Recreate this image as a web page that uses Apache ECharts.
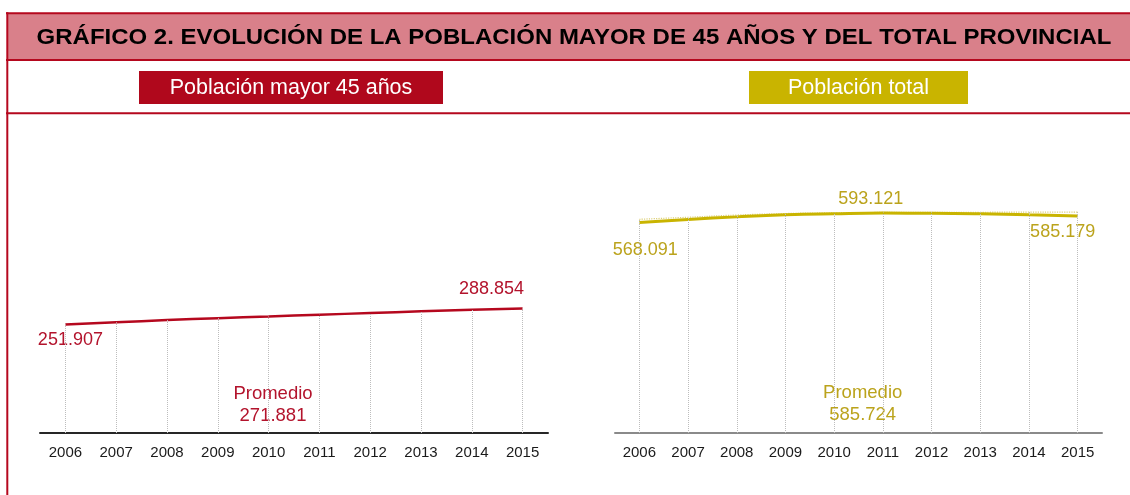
<!DOCTYPE html>
<html>
<head>
<meta charset="utf-8">
<script src="https://cdn.jsdelivr.net/npm/echarts@6/dist/echarts.min.js"></script>
<style>
html,body{margin:0;padding:0;background:#fff;}
#chart{width:1130px;height:495px;}
</style>
</head>
<body>
<div id="chart"></div>
<script>
// datos (miles de personas)
var years = ['2006','2007','2008','2009','2010','2011','2012','2013','2014','2015'];
var mayor45 = [251.907, 257, 262, 266.5, 270.5, 274.5, 278.5, 282.5, 286, 288.854];
var total = [568.091, 576, 583, 588.5, 591.5, 593.121, 592.9, 591.5, 588.5, 585.179];
var totalGuia = [576.5, 582, 588, 592, 594, 595, 595.5, 595.5, 596, 596];
var promedioMayor = '271.881';
var promedioTotal = '585.724';
var tituloTxt = 'GRÁFICO 2. EVOLUCIÓN DE LA POBLACIÓN MAYOR DE 45 AÑOS Y DEL TOTAL PROVINCIAL';
var leyendaMayor = 'Población mayor 45 años';
var leyendaTotal = 'Población total';

var rojo = '#b5081e';
var amarillo = '#c9b400';
var fuente = '"Liberation Sans", Arial, sans-serif';

// etiquetas de valor: indice -> desplazamiento
var etiqMayor = {0: [5, 25.5], 9: [-31, -9.7]};
var etiqTotal = {0: [6, 37], 5: [-12, -5], 9: [-15, 25.3]};

function puntos(vals, etiq, color){
    var res = [];
    for (var i = 0; i < vals.length; i++) {
        var d = {value: vals[i]};
        if (etiq[i]) {
            d.label = {show: true, position: 'top', distance: 0, offset: etiq[i], color: color,
                fontSize: 18, fontFamily: fuente,
                formatter: function(p){ return p.value.toFixed(3); }};
        }
        res.push(d);
    }
    return res;
}
function caidas(vals){
    var res = [];
    for (var i = 0; i < vals.length; i++) {
        res.push([{coord: [years[i], 0]}, {coord: [years[i], vals[i]]}]);
    }
    return res;
}
function ejeX(idx, colorEje){
    return {
        type: 'category', gridIndex: idx, data: years, boundaryGap: true,
        axisLine: {show: true, lineStyle: {color: colorEje, width: 2}},
        axisTick: {show: false},
        axisLabel: {color: '#1a1a1a', fontSize: 15, fontFamily: fuente, margin: 12, interval: 0},
        splitLine: {show: false}
    };
}
function ejeY(idx, max){
    return {type: 'value', gridIndex: idx, min: 0, max: max, show: false, splitLine: {show: false}};
}

var chart = echarts.init(document.getElementById('chart'));
var option = {
    animation: false,
    backgroundColor: '#fff',
    grid: [
        {left: 40, width: 508, top: 174.5, height: 258.5},
        {left: 615, width: 487, top: 173.5, height: 259.5}
    ],
    xAxis: [ejeX(0, '#262626'), ejeX(1, '#8a8a8a')],
    yAxis: [ejeY(0, 600), ejeY(1, 700)],
    series: [
        {
            type: 'line', xAxisIndex: 0, yAxisIndex: 0, data: puntos(mayor45, etiqMayor, '#b3132c'),
            smooth: true, symbol: 'circle', symbolSize: 1, itemStyle: {color: 'rgba(0,0,0,0)'},
            lineStyle: {color: rojo, width: 2.5}, z: 3,
            markLine: {silent: true, symbol: 'none', label: {show: false},
                lineStyle: {type: 'dotted', color: '#bdbdbd', width: 1}, data: caidas(mayor45)}
        },
        {
            type: 'line', xAxisIndex: 1, yAxisIndex: 1, data: totalGuia,
            smooth: true, symbol: 'none', silent: true,
            lineStyle: {color: '#ddd07a', width: 1.2, type: 'dotted'}, z: 2,
            markLine: {silent: true, symbol: 'none', label: {show: false},
                lineStyle: {type: 'dotted', color: '#bdbdbd', width: 1}, data: caidas(totalGuia)}
        },
        {
            type: 'line', xAxisIndex: 1, yAxisIndex: 1, data: puntos(total, etiqTotal, '#bba31c'),
            smooth: true, symbol: 'circle', symbolSize: 1, itemStyle: {color: 'rgba(0,0,0,0)'},
            lineStyle: {color: amarillo, width: 3}, z: 3
        }
    ],
    graphic: [
        {type: 'rect', shape: {x: 7, y: 13, width: 1130, height: 47}, style: {fill: '#d9808a'}, z: -1},
        {type: 'line', shape: {x1: 6, y1: 13.3, x2: 1130, y2: 13.3}, style: {stroke: rojo, lineWidth: 2}},
        {type: 'line', shape: {x1: 6, y1: 60, x2: 1130, y2: 60}, style: {stroke: rojo, lineWidth: 2}},
        {type: 'line', shape: {x1: 6, y1: 113.3, x2: 1130, y2: 113.3}, style: {stroke: rojo, lineWidth: 2}},
        {type: 'line', shape: {x1: 7.3, y1: 12.3, x2: 7.3, y2: 495}, style: {stroke: rojo, lineWidth: 2}},
        {type: 'text', x: 574, y: 37.5, scaleX: 1.09, style: {text: tituloTxt, fill: '#000', font: 'bold 22px ' + fuente,
            textAlign: 'center', textVerticalAlign: 'middle'}},
        {type: 'rect', shape: {x: 139, y: 71, width: 304, height: 33}, style: {fill: '#b0081c'}},
        {type: 'text', x: 291, y: 88, style: {text: leyendaMayor, fill: '#fff', font: '21.5px ' + fuente,
            textAlign: 'center', textVerticalAlign: 'middle'}},
        {type: 'rect', shape: {x: 749, y: 71, width: 219, height: 33}, style: {fill: amarillo}},
        {type: 'text', x: 858.5, y: 88, style: {text: leyendaTotal, fill: '#fff', font: '21.5px ' + fuente,
            textAlign: 'center', textVerticalAlign: 'middle'}},
        {type: 'text', x: 273, y: 405, style: {text: 'Promedio\n' + promedioMayor, fill: '#b3132c',
            font: '18.5px ' + fuente, lineHeight: 22, textAlign: 'center', textVerticalAlign: 'middle'}},
        {type: 'text', x: 862.7, y: 404, style: {text: 'Promedio\n' + promedioTotal, fill: '#bba31c',
            font: '18.5px ' + fuente, lineHeight: 22, textAlign: 'center', textVerticalAlign: 'middle'}}
    ]
};
chart.setOption(option);
</script>
</body>
</html>
